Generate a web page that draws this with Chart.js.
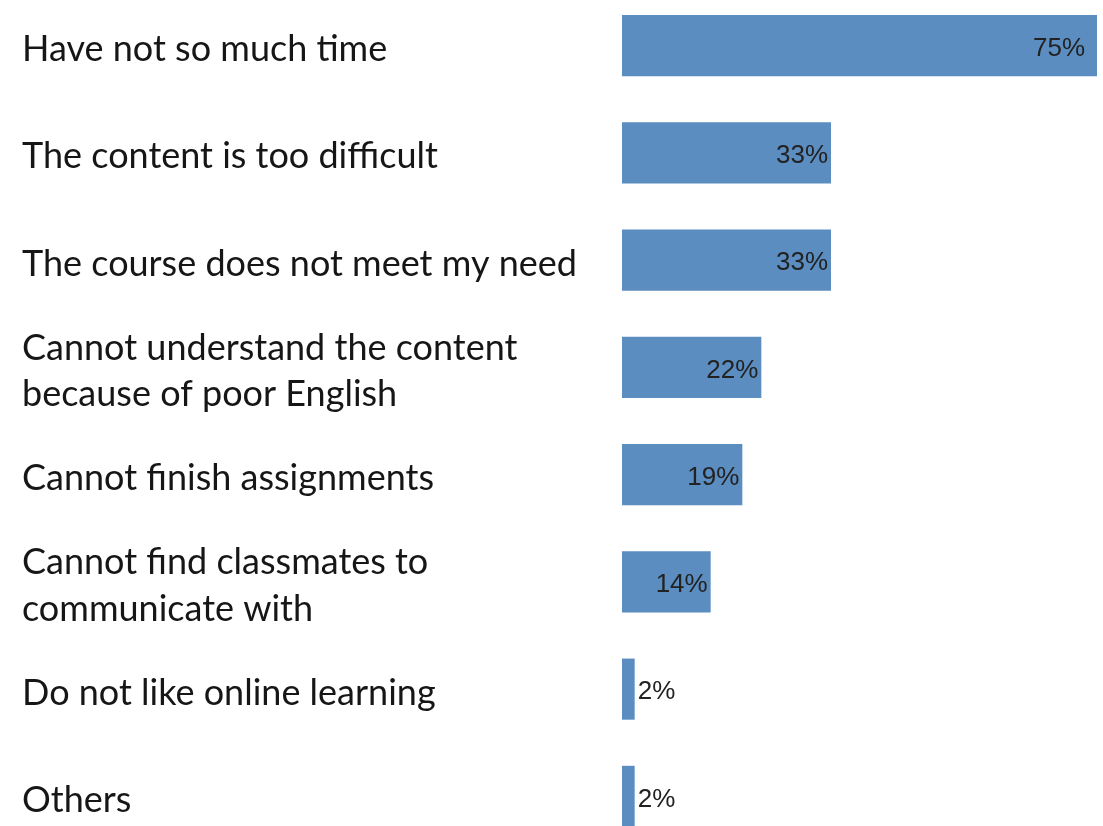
<!DOCTYPE html>
<html>
<head>
<meta charset="utf-8">
<script src="https://cdn.jsdelivr.net/npm/chart.js@4"></script>
<style>
  html, body { margin: 0; padding: 0; background: #fff; overflow: hidden; }
  #wrap { position: absolute; left: 0; top: -8px; width: 1103px; height: 858px; }
</style>
</head>
<body>
<div id="wrap"><canvas id="reasonChart"></canvas></div>
<script>
// Reasons for not finishing the course
const reasons = [
  'Have not so much time',
  'The content is too difficult',
  'The course does not meet my need',
  ['Cannot understand the content', 'because of poor English'],
  'Cannot finish assignments',
  ['Cannot find classmates to', 'communicate with'],
  'Do not like online learning',
  'Others'
];
const percents = [75, 33, 33, 22, 19, 14, 2, 2];

// value labels at the end of each bar
const valueLabels = {
  id: 'valueLabels',
  afterDatasetsDraw(chart) {
    const ctx = chart.ctx;
    const meta = chart.getDatasetMeta(0);
    ctx.save();
    ctx.font = '26px "Liberation Sans", Arial, sans-serif';
    ctx.fillStyle = '#222';
    ctx.textBaseline = 'middle';
    meta.data.forEach((bar, i) => {
      const w = bar.x - bar.base;
      const txt = percents[i] + '%';
      if (w > 60) {
        ctx.textAlign = 'right';
        ctx.fillText(txt, bar.x - (w > 300 ? 12 : 3), bar.y + 3);
      } else {
        ctx.textAlign = 'left';
        ctx.fillText(txt, bar.x + 3, bar.y + 3);
      }
    });
    ctx.restore();
  }
};

const ctx = document.getElementById('reasonChart').getContext('2d');
new Chart(ctx, {
  type: 'bar',
  data: {
    labels: reasons,
    datasets: [{
      data: percents,
      backgroundColor: '#5b8dc1',
      barPercentage: 0.57,
      categoryPercentage: 1
    }]
  },
  options: {
    indexAxis: 'y',
    responsive: true,
    maintainAspectRatio: false,
    animation: false,
    layout: { padding: { left: 22, right: 6, top: 0, bottom: 0 } },
    plugins: { legend: { display: false }, tooltip: { enabled: false } },
    scales: {
      x: { display: false, min: 0, max: 75 },
      y: {
        grid: { display: false },
        border: { display: false },
        afterFit(scale) {
          scale.width = 600;
          // let the bands fill the full height
          scale.paddingTop = 0;
          scale.paddingBottom = 0;
        },
        ticks: {
          crossAlign: 'far',
          color: '#161616',
          padding: 0,
          labelOffset: 4,
          font: { family: 'Lato, "Open Sans", sans-serif', size: 36, lineHeight: 1.3 }
        }
      }
    }
  },
  plugins: [valueLabels]
});
</script>
</body>
</html>
